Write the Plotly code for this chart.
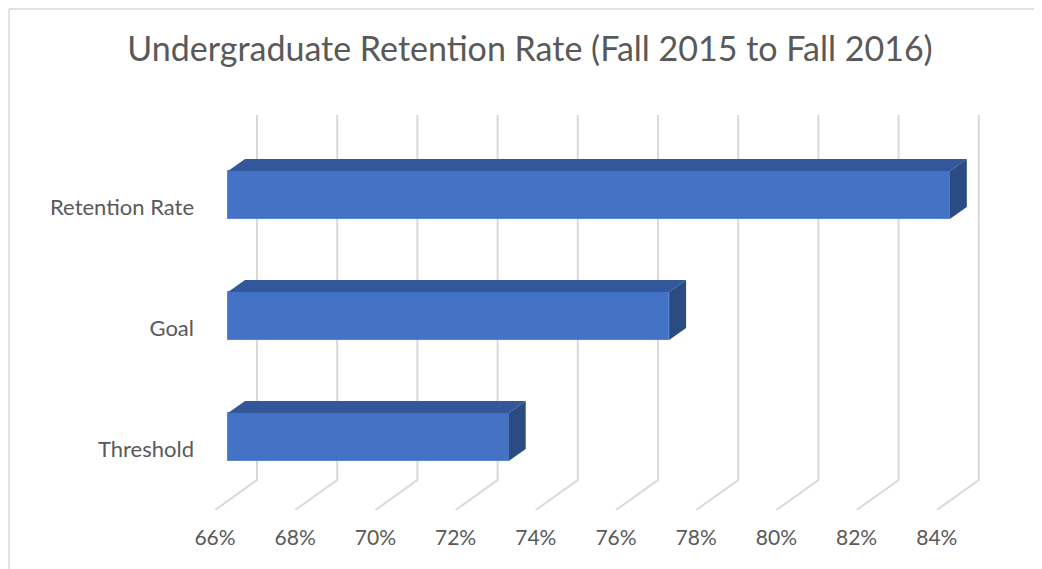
import plotly.graph_objects as go

# ---------------- data ----------------
categories = ["Threshold", "Goal", "Retention Rate"]
values = [73, 77, 84]
tick_values = [66, 68, 70, 72, 74, 76, 78, 80, 82, 84]
tick_labels = ["66%", "68%", "70%", "72%", "74%", "76%", "78%", "80%", "82%", "84%"]
axis_start = 66
title_text = "Undergraduate Retention Rate (Fall 2015 to Fall 2016)"

# ---------------- geometry ----------------
# The page body has an 8px default margin, so the figure is offset by 8px.
OFF = 8
SCREEN_W, SCREEN_H = 1042, 569
W, H = SCREEN_W - OFF, SCREEN_H - OFF

# screen-pixel targets
PLOT_L, PLOT_R, PLOT_T, PLOT_B = 205, 1000, 100, 510
ML, MR = PLOT_L - OFF, W - (PLOT_R - OFF)
MT, MB = PLOT_T - OFF, H - (PLOT_B - OFF)

PX_X = 40.1     # pixels per percentage point
PX_Y = 121.0    # pixels per category step
LABEL0_Y = 449  # screen y of first category label plane
x_min = axis_start - (215 - PLOT_L) / PX_X
x_max = x_min + (PLOT_R - PLOT_L) / PX_X
y_min = -(PLOT_B - LABEL0_Y) / PX_Y
y_max = (LABEL0_Y - PLOT_T) / PX_Y


def dx(px):
    return px / PX_X


def dy(px):
    return px / PX_Y


FRONT_DX, FRONT_DY = dx(13), dy(12)   # bar front face offset from label plane
DEPTH_DX, DEPTH_DY = dx(17), dy(12)   # bar depth
WALL_DX, WALL_DY = dx(42), dy(30)     # back wall offset
BAR_H = dy(48)
GRID_TOP = dy(LABEL0_Y - 115)

front_col = "#4472C4"
top_col = "#32589B"
side_col = "#2B4B83"
grid_col = "#D9D9D9"
text_col = "#595959"

fig = go.Figure()

# front faces of bars
fig.add_trace(go.Bar(
    orientation="h",
    y=[i + FRONT_DY for i in range(len(categories))],
    x=[v - axis_start for v in values],
    base=axis_start + FRONT_DX,
    width=BAR_H,
    marker=dict(color=front_col, line=dict(color="#5B85D2", width=1)),
    hoverinfo="skip",
    showlegend=False,
))

# top and side faces
tx, ty, sx, sy = [], [], [], []
for i, v in enumerate(values):
    x0 = axis_start + FRONT_DX
    x1 = v + FRONT_DX
    yc = i + FRONT_DY
    yt = yc + BAR_H / 2
    yb = yc - BAR_H / 2
    tx += [x0, x0 + DEPTH_DX, x1 + DEPTH_DX, x1, x0, None]
    ty += [yt, yt + DEPTH_DY, yt + DEPTH_DY, yt, yt, None]
    sx += [x1, x1 + DEPTH_DX, x1 + DEPTH_DX, x1, x1, None]
    sy += [yt, yt + DEPTH_DY, yb + DEPTH_DY, yb, yt, None]

fig.add_trace(go.Scatter(x=tx, y=ty, mode="lines", fill="toself", fillcolor=top_col,
                         line=dict(width=0, color=top_col), hoverinfo="skip", showlegend=False))
fig.add_trace(go.Scatter(x=sx, y=sy, mode="lines", fill="toself", fillcolor=side_col,
                         line=dict(width=0, color=side_col), hoverinfo="skip", showlegend=False))

# gridlines on the back wall + floor diagonals (below traces)
shapes = []
for v in tick_values:
    path = "M {a},{b} L {c},{d} L {c},{e}".format(
        a=v, b=y_min, c=v + WALL_DX, d=y_min + WALL_DY, e=GRID_TOP)
    shapes.append(dict(type="path", path=path, xref="x", yref="y", layer="below",
                       line=dict(color=grid_col, width=2)))


def xp(px):
    return (px - PLOT_L) / (PLOT_R - PLOT_L)


def yp(py):
    return (PLOT_B - py) / (PLOT_B - PLOT_T)


# chart border (left & top)
BX, BY = 9, 9
shapes.append(dict(type="line", xref="paper", yref="paper", x0=xp(BX), x1=xp(BX), y0=yp(BY), y1=yp(SCREEN_H + 5),
                   line=dict(color="#D9D9D9", width=1.5), layer="below"))
shapes.append(dict(type="line", xref="paper", yref="paper", x0=xp(BX), x1=xp(SCREEN_W + 5), y0=yp(BY), y1=yp(BY),
                   line=dict(color="#D9D9D9", width=1.5), layer="below"))

FONT = "Lato"
fig.update_layout(
    width=W, height=H,
    margin=dict(l=ML, r=MR, t=MT, b=MB, autoexpand=False),
    paper_bgcolor="white", plot_bgcolor="white",
    shapes=shapes,
    title=dict(text=title_text, x=(530 - OFF) / W, xanchor="center", xref="container",
               y=1 - (49 - OFF) / H, yanchor="middle", yref="container",
               font=dict(family=FONT, size=34, color=text_col)),
    xaxis=dict(range=[x_min, x_max], tickvals=tick_values, ticktext=tick_labels,
               showgrid=False, zeroline=False, showline=False, ticks="",
               ticklabelstandoff=13, fixedrange=True,
               tickfont=dict(family=FONT, size=21, color=text_col)),
    yaxis=dict(range=[y_min, y_max], tickvals=list(range(len(categories))), ticktext=categories,
               showgrid=False, zeroline=False, showline=False, ticks="",
               ticklabelstandoff=10, fixedrange=True,
               tickfont=dict(family=FONT, size=22, color=text_col)),
    bargap=0,
)

fig.write_html("out.html")
